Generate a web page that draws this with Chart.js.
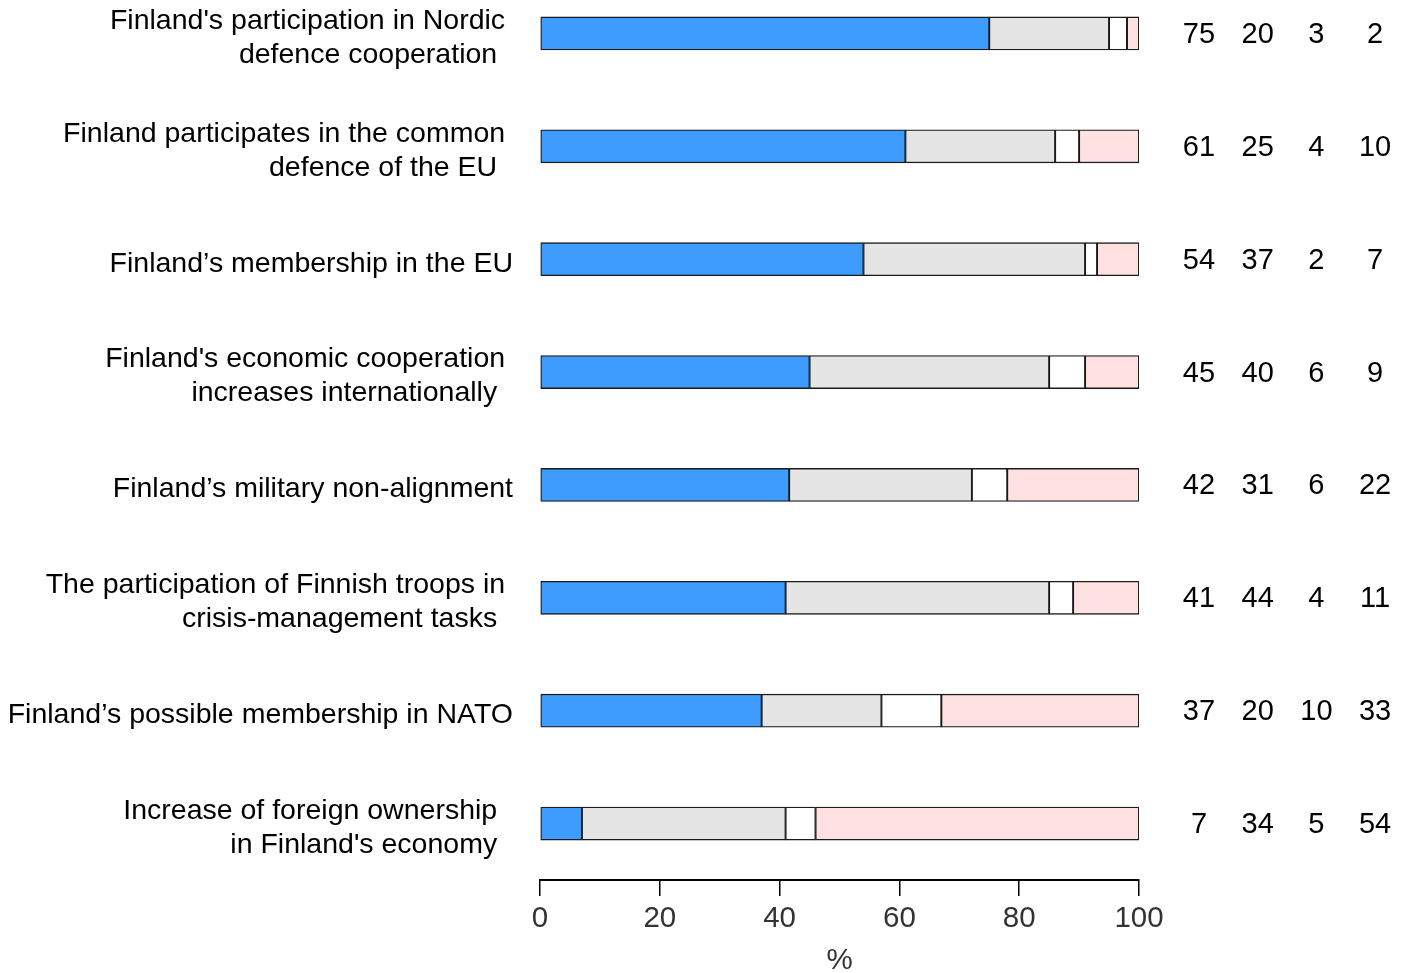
<!DOCTYPE html>
<html>
<head>
<meta charset="utf-8">
<script src="https://cdn.jsdelivr.net/npm/chart.js@4.4.1/dist/chart.umd.min.js"></script>
<style>
  html, body { margin: 0; padding: 0; background: #fff; overflow: hidden; }
  /* the barplot bands run past the top edge, so the canvas starts above the page */
  #wrap { position: absolute; left: 0; top: -23px; width: 1411px; height: 996px; }
</style>
</head>
<body>
<div id="wrap"><canvas id="chart"></canvas></div>
<script>
const categories = [
  ["Finland's participation in Nordic ", "defence cooperation  "],
  ["Finland participates in the common ", "defence of the EU  "],
  ["Finland\u2019s membership in the EU"],
  ["Finland's economic cooperation ", "increases internationally  "],
  ["Finland\u2019s military non-alignment"],
  ["The participation of Finnish troops in ", "crisis-management tasks  "],
  ["Finland\u2019s possible membership in NATO"],
  ["Increase of foreign ownership  ", "in Finland's economy  "]
];

const positive = [75, 61, 54, 45, 41.6, 41, 37, 7];
const neutral  = [20, 25, 37, 40, 30.5, 44, 20, 34];
const cantSay  = [3, 4, 2, 6, 5.9, 4, 10, 5];
const negative = [2, 10, 7, 9, 22, 11, 33, 54];

const xTicks = [0, 20, 40, 60, 80, 100];

const FAMILY = '"Liberation Sans", Arial, sans-serif';
const series = [positive, neutral, cantSay, negative];

// left labels and the numbers column on the right
const sideText = {
  id: 'sideText',
  afterDatasetsDraw(chart) {
    const { ctx, chartArea } = chart;
    const yScale = chart.scales.y;
    ctx.save();
    ctx.fillStyle = '#000';
    ctx.textBaseline = 'middle';
    categories.forEach((lines, i) => {
      const yc = yScale.getPixelForValue(i);
      ctx.font = '28.5px ' + FAMILY;
      ctx.textAlign = 'right';
      lines.forEach((line, j) => {
        const y = yc + 4.5 + (j - (lines.length - 1) / 2) * 34;
        ctx.fillText(line, chartArea.left - 27, y);
      });
      ctx.font = '29px ' + FAMILY;
      ctx.textAlign = 'center';
      series.forEach((arr, k) => {
        ctx.fillText(String(Math.round(arr[i])), chartArea.right + 60 + k * 58.7, yc + 1.5);
      });
    });
    ctx.restore();
  }
};

function ds(label, data, color) {
  return {
    label, data,
    backgroundColor: color,
    borderColor: '#1a1a1a',
    borderWidth: 1.3,
    borderSkipped: false,
    barThickness: 33
  };
}

new Chart(document.getElementById('chart').getContext('2d'), {
  type: 'bar',
  data: {
    labels: categories.map((c) => c.join(' ')),
    datasets: [
      ds('Positive', positive, '#3f9cff'),
      ds('Neutral', neutral, '#e5e5e5'),
      ds("Can't say", cantSay, '#ffffff'),
      ds('Negative', negative, '#ffe1e1')
    ]
  },
  options: {
    indexAxis: 'y',
    responsive: true,
    maintainAspectRatio: false,
    animation: false,
    layout: { padding: { left: 540, right: 272, top: 0, bottom: 0 } },
    plugins: {
      legend: { display: false },
      tooltip: { enabled: false }
    },
    scales: {
      y: { display: false, stacked: true, offset: true },
      x: {
        stacked: true,
        min: 0,
        max: 100,
        afterBuildTicks: (scale) => { scale.ticks = xTicks.map((v) => ({ value: v })); },
        afterFit: (scale) => { scale.height = 93; },
        border: { display: true, color: '#000', width: 2 },
        grid: { display: true, drawOnChartArea: false, drawTicks: true, tickLength: 16, color: '#000', lineWidth: 1.5 },
        ticks: {
          padding: 5,
          maxRotation: 0,
          color: '#333',
          font: { family: FAMILY, size: 29.5 }
        },
        title: {
          display: true,
          text: '%',
          color: '#333',
          padding: 0,
          font: { family: FAMILY, size: 29.5, lineHeight: 0.8 }
        }
      }
    }
  },
  plugins: [sideText]
});
</script>
</body>
</html>
